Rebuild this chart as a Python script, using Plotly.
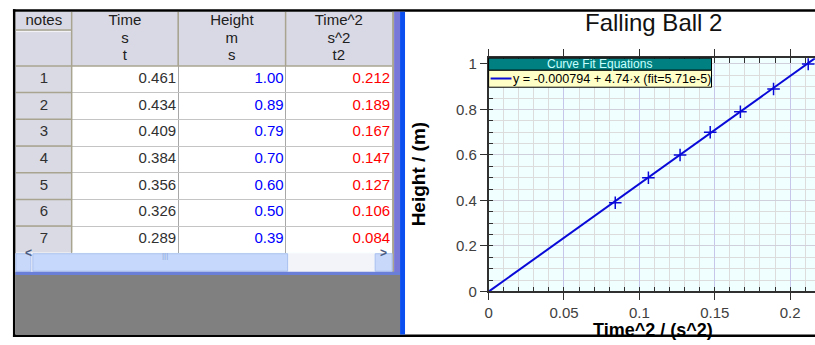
import plotly.graph_objects as go

# ---- data ----
ROW_IDS = ["1", "2", "3", "4", "5", "6", "7"]
TIME_S = [0.461, 0.434, 0.409, 0.384, 0.356, 0.326, 0.289]
HEIGHT_M = [1.00, 0.89, 0.79, 0.70, 0.60, 0.50, 0.39]
TIME_SQ = [0.212, 0.189, 0.167, 0.147, 0.127, 0.106, 0.084]
COLUMN_HEADERS = [["notes"], ["Time", "s", "t"], ["Height", "m", "s"], ["Time^2", "s^2", "t2"]]

# linear fit  y = a + b*x
FIT_INTERCEPT = -0.000794
FIT_SLOPE = 4.74
FIT_MSE = 5.71e-5

W, H = 815, 345
X_RANGE = [0, 0.2165]
Y_RANGE = [0, 1.0255]

# table geometry (pixel units inside the table area)
COL_WIDTHS = [56, 107, 108, 107]
HEADER_H = 56
ROW_H = 27.57
HEADER_LINE_Y = [10, 28, 46]


def px(x):
    return x / W


def py(y):
    return 1 - y / H


FONT = "Liberation Sans, Arial, sans-serif"
LINE_BLUE = "#0a0ad8"

col_edges = [0]
for w in COL_WIDTHS:
    col_edges.append(col_edges[-1] + w)
TABLE_W = col_edges[-1]
TABLE_H = HEADER_H + ROW_H * len(ROW_IDS)
row_centers = [HEADER_H + ROW_H * (i + 0.5) for i in range(len(ROW_IDS))]
row_bounds = [HEADER_H + ROW_H * i for i in range(len(ROW_IDS) + 1)]

fig = go.Figure()

# ---- data table drawn on its own axes ----
hx, hy, ht = [], [], []
for c, lines in enumerate(COLUMN_HEADERS):
    for k, s in enumerate(lines):
        hx.append((col_edges[c] + col_edges[c + 1]) / 2)
        hy.append(HEADER_LINE_Y[k])
        ht.append(s)
fig.add_trace(go.Scatter(
    x=hx, y=hy, text=ht, mode="text", xaxis="x2", yaxis="y2",
    textfont=dict(family=FONT, size=15, color="#202020"),
    textposition="middle center", hoverinfo="skip", showlegend=False,
))
fig.add_trace(go.Scatter(
    x=[(col_edges[0] + col_edges[1]) / 2] * len(ROW_IDS), y=row_centers,
    text=ROW_IDS, mode="text", xaxis="x2", yaxis="y2",
    textfont=dict(family=FONT, size=15, color="#303030"),
    textposition="middle center", hoverinfo="skip", showlegend=False,
))
for c, (vals, fmt, color) in enumerate(
        [(TIME_S, "{:.3f}", "#303030"), (HEIGHT_M, "{:.2f}", "#0000ff"),
         (TIME_SQ, "{:.3f}", "#ff0000")], start=1):
    fig.add_trace(go.Scatter(
        x=[col_edges[c + 1] - 2] * len(vals), y=row_centers,
        text=[fmt.format(v) for v in vals], mode="text", xaxis="x2", yaxis="y2",
        textfont=dict(family=FONT, size=15, color=color),
        textposition="middle left", hoverinfo="skip", showlegend=False,
    ))

# ---- fit line and measured points ----
fit_x = [X_RANGE[0], X_RANGE[1]]
fit_y = [FIT_INTERCEPT + FIT_SLOPE * v for v in fit_x]
fig.add_trace(go.Scatter(
    x=fit_x, y=fit_y, mode="lines",
    line=dict(color=LINE_BLUE, width=2),
    hoverinfo="skip", showlegend=False,
))
fig.add_trace(go.Scatter(
    x=TIME_SQ, y=HEIGHT_M, mode="markers",
    marker=dict(symbol="cross-thin", size=9,
                line=dict(color=LINE_BLUE, width=1.5)),
    showlegend=False,
))

axis_common = dict(
    showline=True, linecolor="#303030", linewidth=1.5,
    ticks="outside", ticklen=7, tickcolor="#303030",
    tickfont=dict(family=FONT, size=15, color="#404040"),
    zeroline=False,
)

fig.update_layout(
    xaxis=dict(
        domain=[px(487), 1], range=X_RANGE, dtick=0.05, tick0=0,
        gridcolor="#c6c6ea", gridwidth=1, mirror="allticks",
        minor=dict(dtick=0.01, ticks="inside", ticklen=5, tickcolor="#303030",
                   showgrid=True, gridcolor="#dcdcdc", gridwidth=1),
        **axis_common,
    ),
    yaxis=dict(
        domain=[py(298), py(57)], range=Y_RANGE, dtick=0.2, tick0=0,
        gridcolor="#d0d0dc", gridwidth=1, mirror=False,
        minor=dict(dtick=0.05, ticks="inside", ticklen=5, tickcolor="#303030",
                   showgrid=True, gridcolor="#dcdcdc", gridwidth=1),
        **axis_common,
    ),
    xaxis2=dict(
        domain=[px(12), px(12 + TABLE_W)], range=[0, TABLE_W], anchor="y2",
        tickmode="array", tickvals=col_edges[1:-1], showticklabels=False,
        ticks="", showgrid=True, gridcolor="#a8a8a8", gridwidth=1,
        zeroline=False, showline=False, fixedrange=True,
    ),
    yaxis2=dict(
        domain=[py(9 + TABLE_H), py(9)], range=[TABLE_H, 0], anchor="x2",
        tickmode="array", tickvals=row_bounds[1:-1], showticklabels=False,
        ticks="", showgrid=True, gridcolor="#c4c4c4", gridwidth=1,
        zeroline=False, showline=False, fixedrange=True,
    ),
)

# ---- window chrome ----
shapes = []


def rect(x0, y0, x1, y1, fill, line=None, lw=0, layer="above"):
    shapes.append(dict(type="rect", xref="paper", yref="paper",
                       x0=px(x0), x1=px(x1), y0=py(y1), y1=py(y0),
                       fillcolor=fill, layer=layer,
                       line=dict(color=line or fill, width=lw)))


def trect(x0, y0, x1, y1, fill, layer="below"):
    shapes.append(dict(type="rect", xref="x2", yref="y2",
                       x0=x0, x1=x1, y0=y0, y1=y1, fillcolor=fill,
                       layer=layer, line=dict(width=0)))


def tline(x0, y0, x1, y1, color, width=1):
    shapes.append(dict(type="line", xref="x2", yref="y2",
                       x0=x0, x1=x1, y0=y0, y1=y1,
                       line=dict(color=color, width=width)))


# table cell backgrounds
trect(0, 0, TABLE_W, TABLE_H, "white")
trect(0, 0, TABLE_W, HEADER_H, "#d9d9e5")
trect(col_edges[0], HEADER_H, col_edges[1], TABLE_H, "#dadae4")
# header borders
tline(0, HEADER_H, TABLE_W, HEADER_H, "#a8a490", 1.5)
tline(0, 19, col_edges[1], 19, "#a8a490", 1.5)
tline(0, 20.5, col_edges[1], 20.5, "#f4f4f8", 1)
for e in col_edges[1:-1]:
    tline(e, 0, e, HEADER_H, "#a8a490", 1.5)
tline(col_edges[1], HEADER_H, col_edges[1], TABLE_H, "#a8a490", 1.5)
for b in row_bounds[1:-1]:
    tline(0, b, col_edges[1], b, "#a8a490", 1.5)

# outer frame
rect(9, 6.5, 815, 9, "black")
rect(9, 6.5, 11.5, 345, "black")
rect(9, 342.5, 815, 345, "black")
# splitter and table window frame
rect(390, 9, 392, 281, "#a8a490")
rect(392, 9, 398, 281, "#7878d8")
rect(398, 9, 403, 342.5, "#0b4ff0")
# empty area under the table
rect(11.5, 281, 398, 342.5, "#808080")
# horizontal scrollbar
rect(11.5, 258.5, 390, 278, "#f2f4fa")
rect(12, 259, 27, 277, "#c8d8fa", "#a9c0ef", 1)
rect(29, 259, 285, 277, "#c6d8fb", "#a9c0ef", 1)
rect(373, 259, 390, 277, "#c8d8fa", "#a9c0ef", 1)
rect(11.5, 277.5, 398, 281, "#6a7fd8")

# curve-fit box
rect(487, 57, 711, 69.5, "#008080", "black", 1)
rect(487, 69.5, 711, 87, "#ffffc8", "black", 1)
shapes.append(dict(type="line", xref="paper", yref="paper",
                   x0=px(489), x1=px(510), y0=py(78), y1=py(78),
                   line=dict(color=LINE_BLUE, width=2)))

fit_label = f"y = {FIT_INTERCEPT:g} + {FIT_SLOPE:g}\u00b7x (fit={FIT_MSE:.3g})".replace("e-05", "e-5")

annotations = [
    dict(text="Falling Ball 2", x=px(653), y=py(20.5), xref="paper", yref="paper",
         showarrow=False, xanchor="center", yanchor="middle",
         font=dict(family=FONT, size=24, color="#111111")),
    dict(text="<b>Height / (m)</b>", x=px(416), y=py(176), xref="paper", yref="paper",
         showarrow=False, textangle=-90, xanchor="center", yanchor="middle",
         font=dict(family=FONT, size=19, color="black")),
    dict(text="<b>Time^2 / (s^2)</b>", x=px(652), y=py(338), xref="paper", yref="paper",
         showarrow=False, xanchor="center", yanchor="middle",
         font=dict(family=FONT, size=18, color="black")),
    dict(text="Curve Fit Equations", x=px(598), y=py(63.5), xref="paper", yref="paper",
         showarrow=False, xanchor="center", yanchor="middle",
         font=dict(family=FONT, size=12, color="#c8ffff")),
    dict(text=fit_label, x=px(510), y=py(78.5), xref="paper", yref="paper",
         showarrow=False, xanchor="left", yanchor="middle",
         font=dict(family=FONT, size=12.6, color="black")),
    dict(text="<b>&lt;</b>", x=px(19.5), y=py(268), xref="paper", yref="paper",
         showarrow=False, font=dict(family=FONT, size=12, color="#4a5a80")),
    dict(text="<b>&gt;</b>", x=px(381.5), y=py(268), xref="paper", yref="paper",
         showarrow=False, font=dict(family=FONT, size=12, color="#4a5a80")),
    dict(text="|||", x=px(157), y=py(268), xref="paper", yref="paper",
         showarrow=False, font=dict(family=FONT, size=8, color="#90a8d8")),
]

fig.update_layout(
    width=W, height=H,
    margin=dict(l=0, r=0, t=0, b=0),
    paper_bgcolor="white",
    plot_bgcolor="#f0ffff",
    shapes=shapes,
    annotations=annotations,
    showlegend=False,
)

fig.write_html("out.html")
